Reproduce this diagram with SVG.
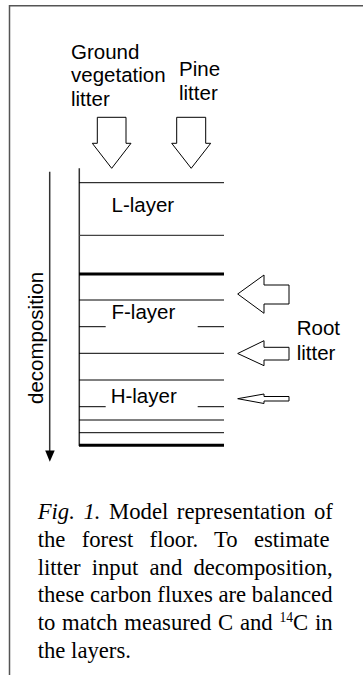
<svg xmlns="http://www.w3.org/2000/svg" width="363" height="675" viewBox="0 0 363 675">
<style>
.lbl{font-family:"Liberation Sans",Arial,sans-serif;font-size:20.5px;fill:#000}
.cap{font-family:"Liberation Serif","Times New Roman",serif;font-size:22.7px;fill:#000}
.ln{stroke:#000;stroke-width:1;fill:none}
.thick{stroke:#000;stroke-width:3;fill:none}
.arr{fill:#fff;stroke:#000;stroke-width:1;stroke-linejoin:miter}
</style>
<rect width="363" height="675" fill="#fff"/>
<g id="frame">
<path d="M9.5,675 V5.7 H363" stroke="#555" stroke-width="1.5" fill="none"/>
</g>
<g id="ground-litter">
<text class="lbl" x="71" y="58.5">Ground</text>
<text class="lbl" x="71" y="82.3">vegetation</text>
<text class="lbl" x="71" y="106">litter</text>
</g>
<g id="pine-litter">
<text class="lbl" x="179" y="76">Pine</text>
<text class="lbl" x="179" y="100">litter</text>
</g>
<g id="root-litter">
<text class="lbl" x="296.7" y="335">Root</text>
<text class="lbl" x="296.7" y="360">litter</text>
</g>
<g id="layers">
<line x1="79.3" y1="168.3" x2="79.3" y2="446" stroke="#333" stroke-width="1.5"/>
<line class="ln" x1="79" y1="182.7" x2="224" y2="182.7"/>
<line x1="79" y1="235.3" x2="224" y2="235.3" stroke="#444" stroke-width="1.3"/>
<line class="thick" x1="79" y1="274" x2="224" y2="274"/>
<line class="ln" x1="79" y1="300" x2="224" y2="300"/>
<line class="ln" x1="79" y1="326.7" x2="105.7" y2="326.7"/>
<line class="ln" x1="197.7" y1="326.7" x2="224" y2="326.7"/>
<line class="ln" x1="79" y1="353.3" x2="224" y2="353.3"/>
<line class="ln" x1="79" y1="380" x2="224" y2="380"/>
<line class="ln" x1="79" y1="406.7" x2="105.7" y2="406.7"/>
<line class="ln" x1="197.7" y1="406.7" x2="224" y2="406.7"/>
<line class="ln" x1="79" y1="420" x2="224" y2="420"/>
<line class="ln" x1="79" y1="432.7" x2="224" y2="432.7"/>
<line class="thick" x1="79" y1="445.3" x2="224" y2="445.3"/>
</g>
<g id="l-layer"><text class="lbl" x="111.5" y="211.7">L-layer</text></g>
<g id="f-layer"><text class="lbl" x="111.5" y="319.3">F-layer</text></g>
<g id="h-layer"><text class="lbl" x="110.7" y="403.3">H-layer</text></g>
<g id="decomposition">
<line x1="49.7" y1="171.7" x2="49.7" y2="452" stroke="#333" stroke-width="1.5"/>
<polygon points="45.2,450.5 54.7,450.5 49.8,461.7" fill="#000"/>
<text class="lbl" transform="translate(42.8,404) rotate(-90)">decomposition</text>
</g>
<g id="connectors">
<polygon class="arr" points="97.3,117.3 126,117.3 126,143.3 131,143.3 111.7,168.3 92.3,143.3 97.3,143.3"/>
<polygon class="arr" points="176.7,117.3 205.7,117.3 205.7,143.3 210.7,143.3 191.2,168.3 171.7,143.3 176.7,143.3"/>
<polygon class="arr" points="237.7,294 264,275 264,285 289,285 289,304 264,304 264,313.3"/>
<polygon class="arr" points="237.7,353.5 264,340.7 264,347.3 289,347.3 289,360 264,360 264,365.7"/>
<polygon class="arr" points="237.7,398.7 264,394 264,396.5 289,396.5 289,401 264,401 264,403.5"/>
</g>
<g id="caption">
<text class="cap" x="37.7" y="519" word-spacing="2.9"><tspan font-style="italic">Fig. 1.</tspan> Model representation of</text>
<text class="cap" x="37.7" y="546.8" word-spacing="10.6">the forest floor. To estimate</text>
<text class="cap" x="37.7" y="574.6" word-spacing="5.5">litter input and decomposition,</text>
<text class="cap" x="37.7" y="602.4" word-spacing="0">these carbon fluxes are balanced</text>
<text class="cap" x="37.7" y="630.2" word-spacing="1.1">to match measured C and <tspan font-size="13.6" dy="-8.5">14</tspan><tspan dy="8.5">C in</tspan></text>
<text class="cap" x="37.7" y="658">the layers.</text>
</g>
</svg>
